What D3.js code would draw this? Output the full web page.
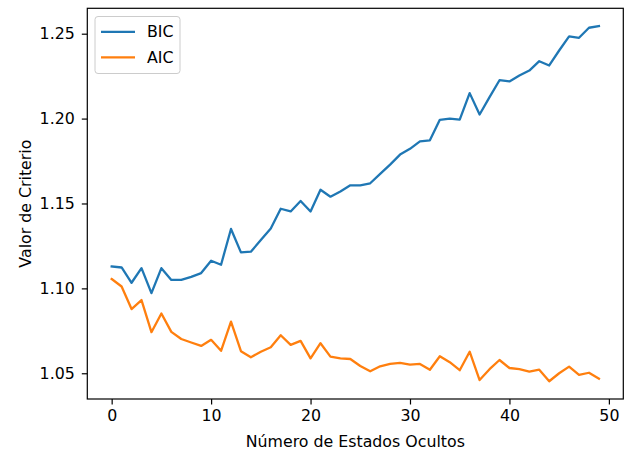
<!DOCTYPE html>
<html>
<head>
<meta charset="utf-8">
<script src="https://cdn.jsdelivr.net/npm/d3@7"></script>
<style>
  body { margin: 0; background: #fff; }
  svg { display: block; font-family: "DejaVu Sans", sans-serif; }
</style>
</head>
<body>
<svg id="chart" width="629" height="455"></svg>
<script>
// valores
const estados = d3.range(0, 50);
const bic = [
    1.1129, 1.1123, 1.1033, 1.1119, 1.0972, 1.1119, 1.1050, 1.1050, 1.1068, 1.1090,
    1.1163, 1.1139, 1.1350, 1.1212, 1.1216, 1.1285, 1.1352, 1.1469, 1.1453, 1.1515,
    1.1453, 1.1581, 1.1540, 1.1571, 1.1607, 1.1607, 1.1619, 1.1674, 1.1729, 1.1788,
    1.1822, 1.1866, 1.1872, 1.1993, 1.2000, 1.1994, 1.2150, 1.2024, 1.2126, 1.2226,
    1.2219, 1.2254, 1.2283, 1.2338, 1.2313, 1.2401, 1.2484, 1.2476, 1.2535, 1.2545
];
const aic = [
    1.1055, 1.1011, 1.0878, 1.0931, 1.0742, 1.0852, 1.0744, 1.0702, 1.0681, 1.0661,
    1.0697, 1.0632, 1.0804, 1.0630, 1.0594, 1.0627, 1.0653, 1.0724, 1.0667, 1.0691,
    1.0588, 1.0677, 1.0598, 1.0588, 1.0584, 1.0543, 1.0512, 1.0541, 1.0555, 1.0561,
    1.0551, 1.0555, 1.0521, 1.0600, 1.0565, 1.0518, 1.0627, 1.0460, 1.0524, 1.0578,
    1.0531, 1.0524, 1.0510, 1.0521, 1.0453, 1.0500, 1.0539, 1.0490, 1.0503, 1.0468
];
const xTicks = [0, 10, 20, 30, 40, 50];
const yTicks = [1.05, 1.10, 1.15, 1.20, 1.25];

const series = [
    { name: 'BIC', values: bic, color: '#1f77b4' },
    { name: 'AIC', values: aic, color: '#ff7f0e' }
];

const svg = d3.select('#chart');
const plotLeft = 87.3, plotRight = 623.3, plotTop = 8.3, plotBottom = 399;
const fontSize = 15.8;

// márgenes del 5% como matplotlib
const xMin = d3.min(estados), xMax = d3.max(estados);
const xPad = (xMax - xMin) * 0.05;
const allVals = bic.concat(aic);
const yMin = d3.min(allVals), yMax = d3.max(allVals);
const yPad = (yMax - yMin) * 0.05;

const x = d3.scaleLinear().domain([xMin - xPad, xMax + xPad]).range([plotLeft, plotRight]);
const y = d3.scaleLinear().domain([yMin - yPad, yMax + yPad]).range([plotBottom, plotTop]);

// ejes
const xAxis = svg.append('g')
    .attr('transform', `translate(0,${plotBottom})`)
    .call(d3.axisBottom(x).tickValues(xTicks).tickSize(5.5).tickPadding(5.5).tickFormat(d3.format('d')));
const yAxis = svg.append('g')
    .attr('transform', `translate(${plotLeft},0)`)
    .call(d3.axisLeft(y).tickValues(yTicks).tickSize(5.5).tickPadding(7).tickFormat(d3.format('.2f')));

[xAxis, yAxis].forEach(g => {
    g.select('.domain').remove();
    g.selectAll('line').attr('stroke', '#000').attr('stroke-width', 1.2);
    g.selectAll('text')
        .attr('font-family', '"DejaVu Sans", sans-serif')
        .attr('font-size', fontSize)
        .attr('fill', '#000');
});

// líneas
const line = d3.line()
    .x((d, i) => x(estados[i]))
    .y(d => y(d));

svg.append('g')
    .selectAll('path')
    .data(series)
    .enter().append('path')
    .attr('d', d => line(d.values))
    .attr('fill', 'none')
    .attr('stroke', d => d.color)
    .attr('stroke-width', 2.3)
    .attr('stroke-linejoin', 'round')
    .attr('stroke-linecap', 'square');

// marco
svg.append('rect')
    .attr('x', plotLeft).attr('y', plotTop)
    .attr('width', plotRight - plotLeft).attr('height', plotBottom - plotTop)
    .attr('fill', 'none')
    .attr('stroke', '#000')
    .attr('stroke-width', 1.2);

// títulos de ejes
svg.append('text')
    .attr('x', (plotLeft + plotRight) / 2)
    .attr('y', 447)
    .attr('text-anchor', 'middle')
    .attr('font-size', fontSize)
    .text('Número de Estados Ocultos');

svg.append('text')
    .attr('transform', `translate(31,${(plotTop + plotBottom) / 2}) rotate(-90)`)
    .attr('text-anchor', 'middle')
    .attr('font-size', fontSize)
    .text('Valor de Criterio');

// leyenda
const legend = svg.append('g').attr('transform', 'translate(95,16.5)');
legend.append('rect')
    .attr('width', 85).attr('height', 57)
    .attr('rx', 3)
    .attr('fill', '#fff').attr('fill-opacity', 0.8)
    .attr('stroke', '#ccc').attr('stroke-width', 1);

const item = legend.selectAll('g.item')
    .data(series)
    .enter().append('g')
    .attr('class', 'item')
    .attr('transform', (d, i) => `translate(0,${15.3 + i * 25.6})`);
item.append('line')
    .attr('x1', 6).attr('x2', 40)
    .attr('stroke', d => d.color)
    .attr('stroke-width', 2.3);
item.append('text')
    .attr('x', 52)
    .attr('dy', '0.35em')
    .attr('font-size', fontSize)
    .text(d => d.name);
</script>
</body>
</html>
